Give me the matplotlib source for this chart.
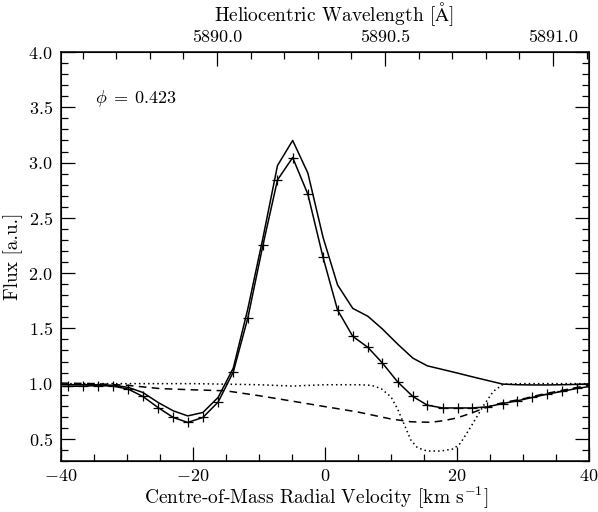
import matplotlib
matplotlib.use("Agg")
import matplotlib.pyplot as plt
from matplotlib.ticker import MultipleLocator

plt.rcParams['font.family'] = ['cmr10', 'DejaVu Serif']
plt.rcParams['mathtext.fontset'] = 'cm'
plt.rcParams['axes.formatter.use_mathtext'] = True
plt.rcParams['axes.unicode_minus'] = True

# Velocity grid of the two model spectra (km/s)
vel_grid = [-41.2, -38.9, -36.6, -34.4, -32.1, -29.8, -27.6, -25.3, -23.0, -20.8,
            -18.5, -16.2, -13.9, -11.7, -9.4, -7.2, -4.9, -2.6, -0.3, 1.9,
            4.2, 6.5, 8.7, 11.0, 13.3, 15.5, 17.8, 20.1, 22.3, 24.6,
            26.9, 29.1, 31.4, 33.7, 35.9, 38.2, 40.5]

flux_total = [0.995, 0.99, 0.99, 0.99, 0.985, 0.966, 0.92, 0.83, 0.754, 0.708,
              0.739, 0.875, 1.14, 1.675, 2.32, 2.973, 3.2, 2.905, 2.324, 1.893,
              1.681, 1.609, 1.494, 1.358, 1.231, 1.161, 1.128, 1.095, 1.062, 1.029,
              0.996, 0.99, 0.988, 0.988, 0.99, 0.993, 1.0]

flux_marked = [0.975, 0.975, 0.978, 0.982, 0.978, 0.95, 0.884, 0.784, 0.694, 0.649,
               0.694, 0.833, 1.105, 1.593, 2.254, 2.843, 3.045, 2.714, 2.143, 1.666,
               1.428, 1.328, 1.186, 1.016, 0.884, 0.805, 0.78, 0.78, 0.78, 0.79,
               0.82, 0.844, 0.875, 0.905, 0.93, 0.957, 0.978]

vel_dashed = [-40, -35, -30, -25, -20, -15, -10, -5, 0, 5, 10, 13, 16, 18, 20, 22,
              24, 26, 28, 30, 33, 36, 40]
flux_dashed = [1.005, 1.0, 0.985, 0.955, 0.944, 0.935, 0.891, 0.842, 0.792, 0.743,
               0.68, 0.655, 0.65, 0.665, 0.69, 0.73, 0.775, 0.815, 0.84, 0.862,
               0.905, 0.94, 0.987]

vel_dotted = [-40, -30, -20, -10, -5, 0, 5, 7, 8.5, 10, 11, 12, 13, 14, 15.5, 17.5,
              19.5, 20.5, 22, 24, 25.5, 27, 30, 40]
flux_dotted = [1.0, 1.0, 1.0, 0.99, 0.978, 0.99, 0.99, 0.985, 0.955, 0.88, 0.77,
               0.63, 0.49, 0.42, 0.39, 0.39, 0.41, 0.46, 0.6, 0.8, 0.93, 0.995,
               1.0, 1.0]

phase_label = r'$\phi\;=\;0.423$'

# wavelength conversion
c_kms = 299792.458
lam_ref = 5890.3214


def vel_to_lam(v):
    return lam_ref * (1 + v / c_kms)


fig = plt.figure(figsize=(5.98, 5.12), dpi=100)
ax = fig.add_axes([0.102, 0.0996, 0.883, 0.7988])

ax.plot(vel_grid, flux_total, color='black', lw=1.1)
ax.plot(vel_grid, flux_marked, color='black', lw=1.1, marker='+', ms=7, mew=0.9)
ax.plot(vel_dashed, flux_dashed, color='black', lw=1.1, dashes=(5, 3.5))
ax.plot(vel_dotted, flux_dotted, color='black', lw=1.1, linestyle=(0, (1, 2)))

ax.set_xlim(-40, 40)
ax.set_ylim(0.3, 4.0)
ax.xaxis.set_major_locator(MultipleLocator(20))
ax.xaxis.set_minor_locator(MultipleLocator(5))
ax.yaxis.set_major_locator(MultipleLocator(0.5))
ax.yaxis.set_minor_locator(MultipleLocator(0.1))
ax.tick_params(which='both', direction='in', top=False, bottom=True, left=True,
               right=True, labelsize=13, width=0.9)
ax.tick_params(which='major', length=10, pad=6)
ax.tick_params(axis='x', which='major', pad=5)
ax.tick_params(which='minor', length=5)
ax.set_xlabel(r'Centre-of-Mass Radial Velocity [km s$^{-1}$]', fontsize=14)
ax.set_ylabel('Flux [a.u.]', fontsize=14)
ax.xaxis.set_label_coords(0.483, -0.058)
ax.yaxis.set_label_coords(-0.072, 0.5)
for s in ax.spines.values():
    s.set_linewidth(1.1)

ax.text(-34.9, 3.58, phase_label, fontsize=13, ha='left', va='center')

ax2 = ax.twiny()
ax2.set_xlim(vel_to_lam(-40), vel_to_lam(40))
ax2.xaxis.set_major_locator(MultipleLocator(0.5))
ax2.xaxis.set_minor_locator(MultipleLocator(0.1))
ax2.xaxis.set_major_formatter(matplotlib.ticker.FormatStrFormatter('%.1f'))
ax2.tick_params(which='both', direction='in', labelsize=13, width=0.9)
ax2.tick_params(which='major', length=10, pad=5)
ax2.tick_params(which='minor', length=5)
ax2.set_xlabel(r'Heliocentric Wavelength [$\mathrm{\AA}$]', fontsize=14)
ax2.xaxis.set_label_coords(0.517, 1.075)

fig.savefig('out.png', dpi=100)
